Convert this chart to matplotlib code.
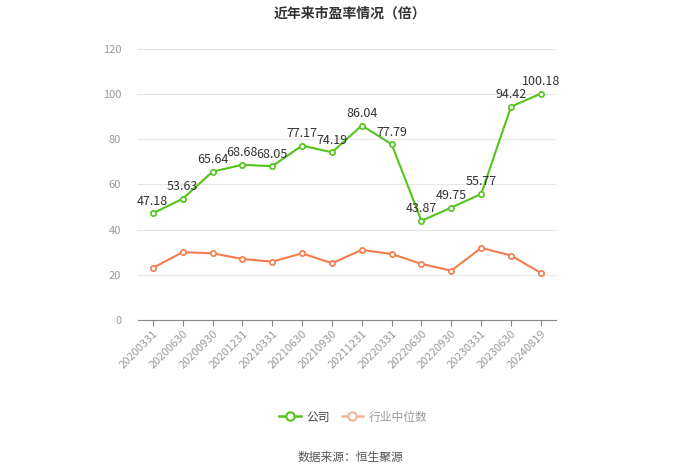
import matplotlib.pyplot as plt
from matplotlib.lines import Line2D
import numpy as np

plt.rcParams['font.family'] = ['Noto Sans CJK SC', 'DejaVu Sans']

dates = ['20200331', '20200630', '20200930', '20201231', '20210331', '20210630',
         '20210930', '20211231', '20220331', '20220630', '20220930', '20230331',
         '20230630', '20240819']
company = [47.18, 53.63, 65.64, 68.68, 68.05, 77.17, 74.19, 86.04, 77.79,
           43.87, 49.75, 55.77, 94.42, 100.18]
industry = [23.0, 30.0, 29.5, 27.0, 25.8, 29.5, 25.1, 31.0, 29.2, 24.8, 21.8,
            31.9, 28.5, 20.8]

green = '#52c41a'
orange = '#f47b4c'

fig = plt.figure(figsize=(7, 4.74), dpi=100)
ax = fig.add_axes([0.197, 0.325, 0.597, 0.572])

x = np.arange(len(dates))
ax.plot(x, company, color=green, lw=1.5, marker='o', ms=3.8,
        mfc='white', mec=green, mew=1.2, zorder=3)
ax.plot(x, industry, color=orange, lw=1.5, marker='o', ms=3.8,
        mfc='white', mec=orange, mew=1.2, zorder=3)

for xi, v in zip(x, company):
    ax.annotate(f'{v:.2f}', (xi, v), xytext=(0, 4), textcoords='offset points',
                ha='center', va='bottom', fontsize=9, color='#333333')

ax.set_xlim(-0.5, len(dates) - 0.5)
ax.set_ylim(0, 120)
ax.set_yticks(np.arange(0, 121, 20))
ax.set_xticks(x)
ax.set_xticklabels(dates, rotation=45, ha='right', rotation_mode='anchor',
                   fontsize=8, color='#999999')
ax.tick_params(axis='y', length=0, labelsize=8, labelcolor='#999999', pad=12)
ax.tick_params(axis='x', length=4, color='#888888', pad=2)
ax.grid(axis='y', color='#e6e6e6', lw=0.8)
ax.set_axisbelow(True)
for s in ['top', 'right', 'left']:
    ax.spines[s].set_visible(False)
ax.spines['bottom'].set_color('#888888')

fig.text(0.5, 0.972, '近年来市盈率情况（倍）', ha='center', va='center',
         fontsize=10, fontweight='bold', color='#333333')

handles = [
    Line2D([], [], color=green, lw=1.8, marker='o', ms=6, mfc='white', mec=green, mew=1.5),
    Line2D([], [], color='#f5b39a', lw=1.8, marker='o', ms=6, mfc='white', mec='#f5b39a', mew=1.5),
]
leg = fig.legend(handles, ['公司', '行业中位数'], loc='center', bbox_to_anchor=(0.505, 0.12),
                 ncol=2, frameon=False, fontsize=8.5, handlelength=1.8,
                 columnspacing=1.0, handletextpad=0.5)
leg.get_texts()[0].set_color('#444444')
leg.get_texts()[1].set_color('#999999')
fig.text(0.5, 0.035, '数据来源：恒生聚源', ha='center', va='center',
         fontsize=8.5, color='#555555')

fig.savefig('out.png', dpi=100)
